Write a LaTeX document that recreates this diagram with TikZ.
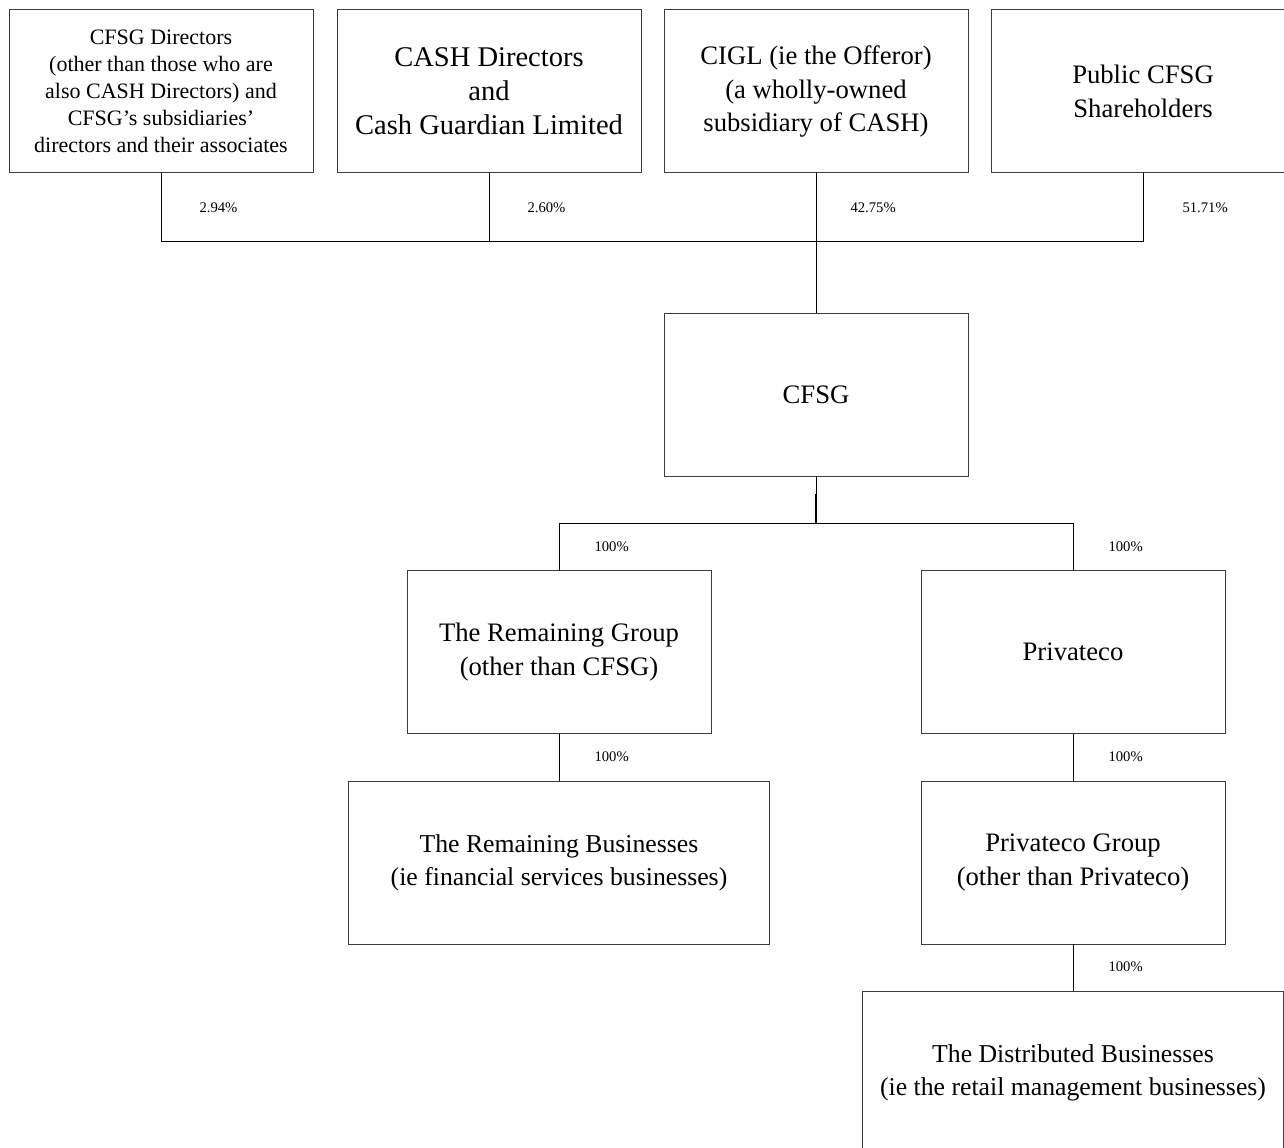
\documentclass[tikz,border=0pt]{standalone}
\usepackage{fontspec}
\setmainfont{Liberation Serif}

\tikzset{every picture/.style={line width=0.75pt}}
\tikzset{
  entity/.style={draw={rgb, 255:red, 60; green, 60; blue, 60}, minimum width=228pt, minimum height=122.25pt,
    inner sep=0pt, outer sep=0pt, align=center, font=\fontsize{20}{25}\selectfont},
  wideentity/.style={entity, minimum width=316pt, font=\fontsize{19.3}{24.8}\selectfont},
  bigentity/.style={entity, font=\fontsize{21.4}{25.5}\selectfont},
  smallentity/.style={entity, font=\fontsize{16.5}{20.2}\selectfont},
  pct/.style={anchor=west, inner sep=0pt, font=\fontsize{11}{13}\selectfont}
}

\begin{document}
\begin{tikzpicture}[x=0.75pt,y=0.75pt,yscale=-1,xscale=1]
		\useasboundingbox (0,0) rectangle (1284,1148);
		\clip (0,0) rectangle (1284,1148);
		
		%Shape: Rectangle - shareholders
		\node [smallentity] (dirs) at (161,91.5) {CFSG Directors\\(other than those who are\\also CASH Directors) and\\CFSG’s subsidiaries’\\directors and their associates};
		\node [bigentity] (cash) at (489,91.5) {CASH Directors\\and\\Cash Guardian Limited};
		\node [entity] (cigl) at (816,91.5) {CIGL (ie the Offeror)\\(a wholly-owned\\subsidiary of CASH)};
		\node [entity] (pub) at (1143,91.5) {Public CFSG\\Shareholders};
		%Shape: Rectangle - group
		\node [entity] (cfsg) at (816,394.5) {CFSG};
		\node [entity] (rgrp) at (559,652) {The Remaining Group\\(other than CFSG)};
		\node [entity] (priv) at (1073,652) {Privateco};
		\node [wideentity] (rbus) at (559,862.5) {The Remaining Businesses\\(ie financial services businesses)};
		\node [entity] (pgrp) at (1073,862.5) {Privateco Group\\(other than Privateco)};
		\node [wideentity] (dbus) at (1073,1072.5) {The Distributed Businesses\\(ie the retail management businesses)};
		
		\coordinate (tbus) at (816,242);
		\coordinate (mbus) at (816,523);
		\coordinate (mknee) at (816,494);
		
		%Straight Lines
		\draw (dirs.south) -- (dirs.south |- tbus) -- (pub.south |- tbus) -- (pub.south);
		\draw (cash.south) -- (cash.south |- tbus);
		\draw (cigl.south) -- (cfsg.north);
		\draw (cfsg.south) -- (mbus);
		\draw [line width=1.2pt] (mknee) -- (mbus);
		\draw (rgrp.north) -- (rgrp.north |- mbus) -- (priv.north |- mbus) -- (priv.north);
		\draw (rgrp.south) -- (rbus.north);
		\draw (priv.south) -- (pgrp.north);
		\draw (pgrp.south) -- (dbus.north);
		
		% Text Node
		\node [pct] (p1) at (199,208) {2.94\%};
		\node [pct] (p2) at (527,208) {2.60\%};
		\node [pct] (p3) at (850,208) {42.75\%};
		\node [pct] (p4) at (1182,208) {51.71\%};
		\node [pct] (p5) at (594,547) {100\%};
		\node [pct] (p6) at (1108,547) {100\%};
		\node [pct] (p7) at (594,757) {100\%};
		\node [pct] (p8) at (1108,757) {100\%};
		\node [pct] (p9) at (1108,967) {100\%};
		
	\end{tikzpicture}
\end{document}
